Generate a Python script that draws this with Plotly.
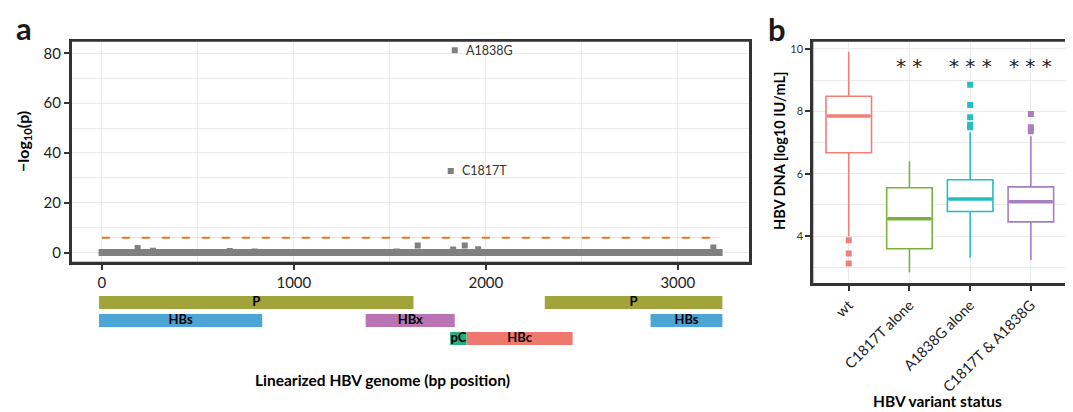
import plotly.graph_objects as go

# ---------------- Panel a data ----------------
band_start = [1, 2862]          # contiguous runs of near-zero positions
band_end = [2850, 3215]
band_logp = [0.0, 0.0]

peak_pos = [186, 266, 666, 796, 1535, 1645, 1830, 1890, 1960, 3185]
peak_logp = [1.9, 0.7, 0.6, 0.4, 0.4, 2.9, 1.2, 2.9, 1.3, 2.1]

hit_labels = ["A1838G", "C1817T"]
hit_pos = [1838, 1817]
hit_logp = [81.2, 32.8]

threshold_x = [0, 3215]
threshold_logp = 6.0

x_ticks = [0, 1000, 2000, 3000]
y_ticks_a = [0, 20, 40, 60, 80]

gene_names = ["P", "P", "HBs", "HBx", "HBs", "pC", "HBc"]
gene_start = [-15, 2307, -15, 1374, 2858, 1814, 1901]
gene_end = [1623, 3232, 835, 1838, 3232, 1900, 2452]
gene_row = [0, 0, 1, 1, 1, 2, 2]
gene_colors = ["#A0A43A", "#A0A43A", "#4DA5D5", "#BB74B3", "#4DA5D5", "#2BAE7E", "#F0776E"]

# ---------------- Panel b data ----------------
categories = ["wt", "C1817T alone", "A1838G alone", "C1817T & A1838G"]
q1 = [6.67, 3.60, 4.79, 4.46]
median = [7.85, 4.56, 5.19, 5.10]
q3 = [8.48, 5.55, 5.81, 5.58]
lower_whisker = [4.00, 2.85, 3.31, 3.24]
upper_whisker = [9.91, 6.40, 7.33, 7.20]
outliers = [[3.87, 3.45, 3.13], [], [8.85, 8.20, 7.81, 7.57, 7.49], [7.91, 7.49, 7.36]]
box_colors = ["#F07F78", "#7DAF3F", "#25BCC4", "#A87EBE"]
signif = ["", "* *", "* * *", "* * *"]
signif_y = 9.55
y_ticks_b = [4, 6, 8, 10]

# the page body has an 8px margin; figure is sized to fit the 1073x412 window
OFF = 8
W, H = 1073 - OFF, 412 - OFF
FONT = "Lato, 'Open Sans', sans-serif"
GRID = "#EBEBEB"
FRAME = "#333333"

def px_x(p):
    return (p - OFF) / W

def px_y(p):
    return 1 - (p - OFF) / H

fig = go.Figure()

# band of near-zero points
bx, by = [], []
for s, e, v in zip(band_start, band_end, band_logp):
    bx += [s, e, None]
    by += [v, v, None]
fig.add_trace(go.Scatter(x=bx, y=by, mode="lines+markers",
                         line=dict(color="#808080", width=7),
                         marker=dict(symbol="square", size=7, color="#808080"),
                         xaxis="x", yaxis="y", hoverinfo="skip", showlegend=False))

# threshold line
fig.add_trace(go.Scatter(x=threshold_x, y=[threshold_logp] * len(threshold_x), mode="lines",
                         line=dict(color="rgba(232,116,45,0.25)", width=1),
                         xaxis="x", yaxis="y", hoverinfo="skip", showlegend=False))
fig.add_trace(go.Scatter(x=threshold_x, y=[threshold_logp] * len(threshold_x), mode="lines",
                         line=dict(color="#E8742D", width=2, dash="8px,12px"),
                         xaxis="x", yaxis="y", hoverinfo="skip", showlegend=False))

# raised points
fig.add_trace(go.Scatter(x=peak_pos + hit_pos, y=peak_logp + hit_logp, mode="markers",
                         marker=dict(symbol="square", size=6, color="#808080"),
                         xaxis="x", yaxis="y", hoverinfo="skip", showlegend=False))

for lab, xp, yp in zip(hit_labels, hit_pos, hit_logp):
    fig.add_annotation(x=xp, y=yp, xref="x", yref="y", text=lab, showarrow=False,
                       xanchor="left", yanchor="middle", xshift=9,
                       font=dict(family=FONT, size=12.5, color="#333333"))

# gene bars
fig.add_trace(go.Bar(y=gene_row, x=[e - s for s, e in zip(gene_start, gene_end)], base=gene_start,
                     orientation="h", width=0.72, marker=dict(color=gene_colors, line=dict(width=0)),
                     xaxis="x3", yaxis="y3", hoverinfo="skip", showlegend=False))
fig.add_trace(go.Scatter(x=[(s + e) / 2 for s, e in zip(gene_start, gene_end)], y=gene_row,
                         mode="text", text=gene_names,
                         textfont=dict(family=FONT, size=13, color="black", weight="bold"),
                         xaxis="x3", yaxis="y3", hoverinfo="skip", showlegend=False))

# ---------------- Panel b ----------------
for cat, a, m, b, lo, hi, col in zip(categories, q1, median, q3, lower_whisker, upper_whisker, box_colors):
    fig.add_trace(go.Box(x=[cat], q1=[a], median=[m], q3=[b], lowerfence=[lo], upperfence=[hi],
                         fillcolor="white", line=dict(color=col, width=1.6), whiskerwidth=0,
                         width=0.75, boxpoints=False, xaxis="x2", yaxis="y2",
                         hoverinfo="skip", showlegend=False))

fig.add_trace(go.Scatter(x=categories, y=median, mode="markers",
                         marker=dict(symbol="line-ew", size=31, line=dict(color=box_colors, width=3.5)),
                         xaxis="x2", yaxis="y2", hoverinfo="skip", showlegend=False))

for cat, outs, col in zip(categories, outliers, box_colors):
    if outs:
        fig.add_trace(go.Scatter(x=[cat] * len(outs), y=outs, mode="markers",
                                 marker=dict(symbol="square", size=6, color=col),
                                 xaxis="x2", yaxis="y2", hoverinfo="skip", showlegend=False))

for cat, s in zip(categories, signif):
    if s:
        fig.add_annotation(x=cat, y=signif_y, xref="x2", yref="y2", text=s, showarrow=False,
                           yanchor="middle", yshift=-3,
                           font=dict(family="DejaVu Sans", size=20, color="#222222"))

# ---------------- axes ----------------
common = dict(showline=True, linecolor=FRAME, linewidth=2, mirror=True,
              ticks="outside", ticklen=5, tickwidth=1.5, tickcolor=FRAME,
              gridcolor=GRID, gridwidth=1.2, zeroline=False)

xa_range = [-161, 3376]
fig.update_layout(
    width=W, height=H,
    margin=dict(l=0, r=0, t=0, b=0),
    paper_bgcolor="white", plot_bgcolor="white",
    font=dict(family=FONT, color="#222222"),
    boxmode="overlay",
    xaxis=dict(domain=[px_x(71), px_x(750)], anchor="y", range=xa_range,
               tickvals=x_ticks, tickfont=dict(size=15, color="#222222"),
               minor=dict(dtick=500, tick0=0, showgrid=True, gridcolor=GRID, ticks=""),
               **common),
    yaxis=dict(domain=[px_y(262.7), px_y(40.7)], anchor="x", range=[-4.05, 85.05],
               tickvals=y_ticks_a, tickfont=dict(size=15, color="#222222"),
               minor=dict(dtick=10, tick0=0, showgrid=True, gridcolor=GRID, ticks=""),
               **common),
    xaxis3=dict(domain=[px_x(71), px_x(750)], anchor="y3", range=xa_range, visible=False),
    yaxis3=dict(domain=[px_y(347.5), px_y(293.5)], anchor="x3", range=[2.5, -0.5], visible=False),
    xaxis2=dict(domain=[px_x(812.3), px_x(1067.3)], anchor="y2", type="category",
                categoryorder="array", categoryarray=categories, range=[-0.6, 3.6],
                tickangle=-45, tickfont=dict(size=14.5, color="#222222"), **common),
    yaxis2=dict(domain=[px_y(284), px_y(40.7)], anchor="x2", range=[2.47, 10.26],
                tickvals=y_ticks_b, tickfont=dict(size=11, color="#333333"),
                minor=dict(dtick=1, tick0=0, showgrid=True, gridcolor=GRID, ticks=""),
                **common),
)

# panel frames (drawn on top, in axis-domain coordinates)
for xr, yr in [("x domain", "y domain"), ("x2 domain", "y2 domain")]:
    fig.add_shape(type="rect", xref=xr, yref=yr, x0=0, x1=1, y0=0, y1=1,
                  line=dict(color=FRAME, width=2), fillcolor="rgba(0,0,0,0)", layer="above")

# titles & panel letters
def bold(size):
    return dict(family=FONT, size=size, color="black", weight="bold")

fig.add_annotation(x=px_x(382), y=px_y(380), xref="paper", yref="paper", showarrow=False,
                   text="Linearized HBV genome (bp position)", font=bold(15.5),
                   xanchor="center", yanchor="middle")
fig.add_annotation(x=px_x(23), y=px_y(142), xref="paper", yref="paper", showarrow=False,
                   text="−log<sub>10</sub>(p)", textangle=-90, font=bold(16),
                   xanchor="center", yanchor="middle")
fig.add_annotation(x=px_x(937), y=px_y(401), xref="paper", yref="paper", showarrow=False,
                   text="HBV variant status", font=bold(15.5), xanchor="center", yanchor="middle")
fig.add_annotation(x=px_x(779), y=px_y(151), xref="paper", yref="paper", showarrow=False,
                   text="HBV DNA [log10 IU/mL]", textangle=-90, font=bold(14.5),
                   xanchor="center", yanchor="middle")
letter_font = dict(family=FONT, size=31, color="#1a1a1a", weight="bold")
fig.add_annotation(x=px_x(14), y=px_y(28), xref="paper", yref="paper", showarrow=False,
                   text="a", font=letter_font, xanchor="left", yanchor="middle")
fig.add_annotation(x=px_x(766), y=1, xref="paper", yref="paper", showarrow=False,
                   text="b", font=letter_font, xanchor="left", yanchor="top")

fig.write_html("out.html")
